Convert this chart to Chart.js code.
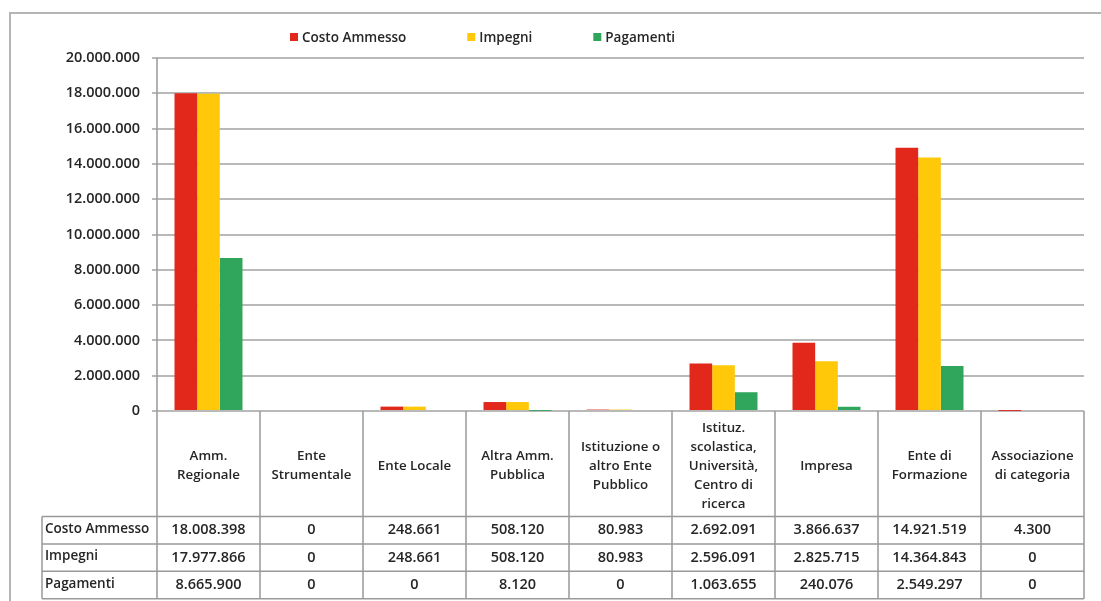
<!DOCTYPE html>
<html>
<head>
<meta charset="utf-8">
<script src="https://cdn.jsdelivr.net/npm/chart.js@4"></script>
<style>
  html, body { margin: 0; padding: 0; background: #fff; }
</style>
</head>
<body>
<canvas id="spesa-chart" width="1101" height="601"></canvas>
<script>
const categorie = [
    ["Amm.", "Regionale"],
    ["Ente", "Strumentale"],
    ["Ente Locale"],
    ["Altra Amm.", "Pubblica"],
    ["Istituzione o", "altro Ente", "Pubblico"],
    ["Istituz.", "scolastica,", "Università,", "Centro di", "ricerca"],
    ["Impresa"],
    ["Ente di", "Formazione"],
    ["Associazione", "di categoria"]
];
const costoAmmesso = [18008398, 0, 248661, 508120, 80983, 2692091, 3866637, 14921519, 4300];
const impegni = [17977866, 0, 248661, 508120, 80983, 2596091, 2825715, 14364843, 0];
const pagamenti = [8665900, 0, 0, 8120, 0, 1063655, 240076, 2549297, 0];
const nomiSerie = ["Costo Ammesso", "Impegni", "Pagamenti"];
const coloriSerie = ["#e2271b", "#ffc90a", "#2fa65b"];
const yMax = 20000000;
const yStep = 2000000;

const FONT = "'Open Sans', 'Liberation Sans', sans-serif";
const TEXT_COLOR = "#262626";

function formatNumero(n) {
    return String(n).replace(/\B(?=(\d{3})+(?!\d))/g, ".");
};

const spesaCanvas = document.querySelector("#spesa-chart");

// cornice esterna (solo lati sinistro e superiore)
const cornice = {
    id: "cornice",
    beforeDraw(chart) {
        const ctx = chart.ctx;
        ctx.save();
        ctx.strokeStyle = "#b5b5b5";
        ctx.lineWidth = 2;
        ctx.beginPath();
        ctx.moveTo(10, chart.height);
        ctx.lineTo(10, 13);
        ctx.lineTo(chart.width, 13);
        ctx.stroke();
        ctx.restore();
    }
};

// legenda disegnata a mano: quadratino + testo, spaziatura larga
const legendaSerie = {
    id: "legendaSerie",
    afterDraw(chart) {
        const ctx = chart.ctx;
        ctx.save();
        ctx.font = `600 13.5px ${FONT}`;
        ctx.textBaseline = "middle";
        let x = 290;
        const y = 38;
        chart.data.datasets.forEach((ds) => {
            ctx.fillStyle = ds.backgroundColor;
            ctx.fillRect(x, y - 5, 8, 8);
            ctx.fillStyle = TEXT_COLOR;
            ctx.fillText(ds.label, x + 12, y);
            x += 12 + ctx.measureText(ds.label).width + 61;
        });
        ctx.restore();
    }
};

// tabella dati sotto l'asse x, colonne allineate alle categorie
const tabellaDati = {
    id: "tabellaDati",
    afterDraw(chart) {
        const { ctx, chartArea } = chart;
        const xScale = chart.scales.x;
        const n = categorie.length;
        const colW = chartArea.width / n;
        const top = chartArea.bottom;
        const headBottom = top + 105.5;
        const rowH = 27.4;
        const labelLeft = 42;
        const bottom = headBottom + rowH * nomiSerie.length;
        const righe = [costoAmmesso, impegni, pagamenti];

        ctx.save();
        ctx.strokeStyle = "#999999";
        ctx.lineWidth = 1.5;
        ctx.beginPath();
        // asse verticale prolungato fino al fondo
        ctx.moveTo(chartArea.left, chartArea.top);
        ctx.lineTo(chartArea.left, bottom);
        for (let i = 0; i < n; i++) {
            const xr = xScale.getPixelForValue(i) + colW / 2;
            ctx.moveTo(xr, top);
            ctx.lineTo(xr, bottom);
        }
        ctx.moveTo(labelLeft, headBottom);
        ctx.lineTo(labelLeft, bottom);
        for (let r = 0; r <= righe.length; r++) {
            const y = headBottom + r * rowH;
            ctx.moveTo(labelLeft, y);
            ctx.lineTo(chartArea.right, y);
        }
        ctx.stroke();

        ctx.fillStyle = TEXT_COLOR;
        ctx.textBaseline = "middle";

        // intestazioni delle categorie
        ctx.font = `600 13.3px ${FONT}`;
        ctx.textAlign = "center";
        const lh = 19;
        const midHead = (top + headBottom) / 2 + 2;
        categorie.forEach((righeTesto, i) => {
            const cx = xScale.getPixelForValue(i);
            const y0 = midHead - (righeTesto.length - 1) * lh / 2;
            righeTesto.forEach((t, k) => ctx.fillText(t, cx, y0 + k * lh));
        });

        // valori
        ctx.font = `600 14.5px ${FONT}`;
        righe.forEach((valori, r) => {
            const cy = headBottom + r * rowH + rowH / 2;
            valori.forEach((v, i) => {
                ctx.fillText(formatNumero(v), xScale.getPixelForValue(i), cy);
            });
        });

        // nomi delle serie
        ctx.textAlign = "left";
        ctx.font = `600 13.5px ${FONT}`;
        nomiSerie.forEach((nome, r) => {
            ctx.fillText(nome, labelLeft + 3, headBottom + r * rowH + rowH / 2 - 1);
        });
        ctx.restore();
    }
};

const spesaChart = new Chart(spesaCanvas, {
    type: "bar",
    data: {
        labels: categorie,
        datasets: [costoAmmesso, impegni, pagamenti].map((valori, i) => ({
            label: nomiSerie[i],
            data: valori,
            backgroundColor: coloriSerie[i],
            borderWidth: 0,
            barPercentage: 1.0,
            categoryPercentage: 0.66,
        }))
    },
    options: {
        responsive: false,
        animation: false,
        layout: {
            padding: { top: 58, right: 17, bottom: 190, left: 10 }
        },
        plugins: {
            legend: { display: false },
            tooltip: { enabled: false },
        },
        scales: {
            x: {
                display: false,
            },
            y: {
                min: 0,
                max: yMax,
                afterFit: (scale) => { scale.width = 147; },
                ticks: {
                    stepSize: yStep,
                    padding: 12,
                    color: TEXT_COLOR,
                    font: { family: FONT, size: 14.5, weight: 600 },
                    callback: (v) => formatNumero(v),
                },
                grid: {
                    color: "#b9b9b9",
                    lineWidth: 2,
                    tickLength: 5,
                },
                border: { display: false },
            }
        }
    },
    plugins: [cornice, legendaSerie, tabellaDati]
});
</script>
</body>
</html>
